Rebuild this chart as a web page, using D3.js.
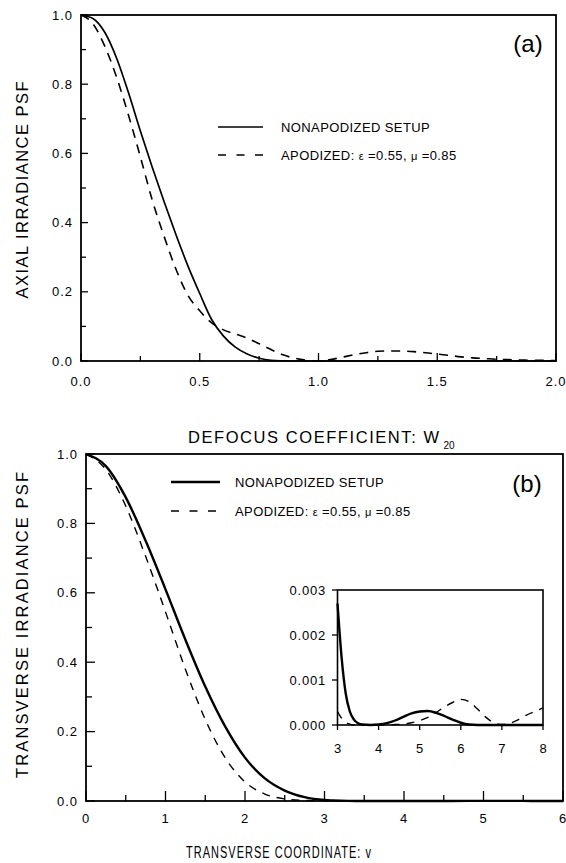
<!DOCTYPE html>
<html><head><meta charset="utf-8">
<script src="https://cdn.jsdelivr.net/npm/d3@7"></script>
<style>
html,body{margin:0;padding:0;background:#fff;}
svg{display:block;font-family:"Liberation Sans",Arial,Helvetica,sans-serif;}
</style></head>
<body>
<svg id="chart" width="566" height="863"></svg>
<script>
// ---- Panel (a): axial irradiance vs defocus coefficient W20 ----
const defocusW20 = [0,0.05,0.1,0.15,0.2,0.25,0.3,0.35,0.4,0.45,0.5,0.55,0.6,0.65,0.7,0.75,0.8,0.85,0.9,0.95,1.0,1.05,1.1,1.15,1.2,1.25,1.3,1.35,1.4,1.45,1.5,1.55,1.6,1.65,1.7,1.75,1.8,1.85,1.9,1.95,2.0];
const axialNonapodized = [1.0,0.99,0.95,0.875,0.775,0.665,0.56,0.46,0.365,0.275,0.195,0.12,0.072,0.04,0.02,0.008,0.002,0.0005,0,0,0,0,0,0,0,0,0,0,0,0,0,0,0,0,0,0,0,0,0,0,0];
const axialApodized = [1.0,0.975,0.91,0.82,0.71,0.59,0.465,0.36,0.265,0.19,0.145,0.11,0.09,0.078,0.066,0.05,0.033,0.018,0.008,0.002,0.0,0.004,0.011,0.018,0.024,0.028,0.029,0.029,0.027,0.024,0.02,0.016,0.012,0.009,0.007,0.005,0.004,0.003,0.002,0.002,0.001];
const aXTicks = [0,0.5,1.0,1.5,2.0];
const aYTicks = [0,0.2,0.4,0.6,0.8,1.0];

// ---- Panel (b): transverse irradiance vs transverse coordinate v ----
const transV = [0,0.25,0.5,0.75,1.0,1.25,1.5,1.75,2.0,2.25,2.5,2.75,3.0];
const transNonapodized = [1.0,0.965,0.875,0.75,0.61,0.465,0.33,0.215,0.125,0.065,0.03,0.011,0.0027];
const transApodized = [1.0,0.955,0.85,0.705,0.545,0.38,0.235,0.125,0.055,0.02,0.006,0.0015,0.0003];
// inset (tail, v = 3..8)
const insetV = [3.0,3.1,3.2,3.3,3.4,3.5,3.6,3.8,4.0,4.2,4.4,4.6,4.8,5.0,5.2,5.4,5.6,5.8,6.0,6.2,6.4,6.6,6.8,7.0,7.2,7.4,7.6,7.8,8.0];
const insetNonapodized = [0.0027,0.0015,0.0007,0.0003,0.00012,0.00004,0.00001,0,0.00001,0.00004,0.0001,0.00018,0.00026,0.0003,0.00031,0.00027,0.0002,0.00012,0.00005,0.00001,0,0,0,0,0,0,0,0,0];
const insetApodized = [0.0003,0.00015,0.00006,0.00002,0,0,0,0,0,0,0.00001,0.00002,0.00005,0.0001,0.00017,0.00028,0.0004,0.0005,0.00057,0.00052,0.00036,0.00018,0.00005,0.00001,0.00004,0.00012,0.00022,0.0003,0.00038];
const bXTicks = [0,1,2,3,4,5,6];
const bYTicks = [0,0.2,0.4,0.6,0.8,1.0];
const insetXTicks = [3,4,5,6,7,8];
const insetYTicks = [0,0.001,0.002,0.003];

const legendLabels = ["NONAPODIZED SETUP", "APODIZED: "];

const svg = d3.select("#chart");

function zip(xs, ys){ return xs.map((x,i)=>[x, ys[i]]); }

function drawFrame(g, x, y, sw){
  const [x0,x1] = x.range(), [y1,y0] = y.range();
  g.append("rect").attr("x",x0).attr("y",y0).attr("width",x1-x0).attr("height",y1-y0)
   .attr("fill","none").attr("stroke","#000").attr("stroke-width",sw);
}

function innerTicks(g, x, y, xMajor, xMinor, yMajor, yMinor, lenMajX, lenMinX, lenMajY, lenMinY){
  const [x0] = x.range(), [y1] = y.range();
  xMajor.concat(xMinor).forEach((t,i)=>{
    const L = i < xMajor.length ? lenMajX : lenMinX;
    g.append("line").attr("x1",x(t)).attr("x2",x(t)).attr("y1",y1).attr("y2",y1-L)
      .attr("stroke","#000").attr("stroke-width",1.3);
  });
  yMajor.concat(yMinor).forEach((t,i)=>{
    const L = i < yMajor.length ? lenMajY : lenMinY;
    g.append("line").attr("x1",x0).attr("x2",x0+L).attr("y1",y(t)).attr("y2",y(t))
      .attr("stroke","#000").attr("stroke-width",1.3);
  });
}

function tickLabels(g, x, y, xt, yt, xfmt, yfmt, xBase, yRight, fs){
  xt.forEach(t=>{
    g.append("text").attr("x",x(t)).attr("y",xBase).attr("text-anchor","middle")
     .attr("font-size",fs).attr("letter-spacing","1px").text(xfmt(t));
  });
  yt.forEach(t=>{
    g.append("text").attr("x",yRight).attr("y",y(t)+fs*0.36).attr("text-anchor","end")
     .attr("font-size",fs).attr("letter-spacing","1px").text(yfmt(t));
  });
}

function legend(g, xLine0, xLine1, xText, yRow1, yRow2, solidW, fs){
  g.append("line").attr("x1",xLine0).attr("x2",xLine1).attr("y1",yRow1).attr("y2",yRow1)
   .attr("stroke","#000").attr("stroke-width",solidW);
  g.append("line").attr("x1",xLine0).attr("x2",xLine1).attr("y1",yRow2).attr("y2",yRow2)
   .attr("stroke","#000").attr("stroke-width",1.5).attr("stroke-dasharray","8,10.5");
  g.append("text").attr("x",xText).attr("y",yRow1+fs*0.36).attr("font-size",fs)
   .attr("letter-spacing","0.4px").text(legendLabels[0]);
  const t = g.append("text").attr("x",xText).attr("y",yRow2+fs*0.36).attr("font-size",fs)
   .attr("letter-spacing","0.4px");
  t.append("tspan").text(legendLabels[1]);
  t.append("tspan").attr("font-size",fs*0.85).text("\u03B5");
  t.append("tspan").text(" =0.55, ");
  t.append("tspan").attr("font-size",fs*0.85).text("\u03BC");
  t.append("tspan").text(" =0.85");
}

// ================= Panel (a) =================
const ga = svg.append("g");
const xa = d3.scaleLinear().domain([0,2]).range([81,556]);
const ya = d3.scaleLinear().domain([0,1]).range([361,15]);
const lineA = d3.line().x(d=>xa(d[0])).y(d=>ya(d[1])).curve(d3.curveMonotoneX);

ga.append("path").datum(zip(defocusW20, axialApodized)).attr("d",lineA)
  .attr("fill","none").attr("stroke","#000").attr("stroke-width",1.6).attr("stroke-dasharray","9,7");
ga.append("path").datum(zip(defocusW20, axialNonapodized)).attr("d",lineA)
  .attr("fill","none").attr("stroke","#000").attr("stroke-width",1.7);

drawFrame(ga, xa, ya, 1.8);
innerTicks(ga, xa, ya, aXTicks, [0.25,0.75,1.25,1.75], aYTicks, [0.1,0.3,0.5,0.7,0.9], 8, 5, 7, 5);
tickLabels(ga, xa, ya, aXTicks, aYTicks, d3.format(".1f"), d3.format(".1f"), 386, 73, 13);

legend(ga, 218, 263, 281, 127, 155, 1.7, 13);
ga.append("text").attr("x",528).attr("y",52).attr("text-anchor","middle").attr("font-size",24).text("(a)");

ga.append("text").attr("transform","translate(28,190) rotate(-90)").attr("text-anchor","middle")
  .attr("font-size",16.5).attr("textLength",217).attr("lengthAdjust","spacing")
  .text("AXIAL IRRADIANCE PSF");
const xta = ga.append("text").attr("x",188).attr("y",443).attr("font-size",16.5);
xta.append("tspan").attr("textLength",251).attr("lengthAdjust","spacing").text("DEFOCUS COEFFICIENT: W");
xta.append("tspan").attr("font-size",10).attr("dx",3).attr("dy",6).text("20");

// ================= Panel (b) =================
const gb = svg.append("g");
const xb = d3.scaleLinear().domain([0,6]).range([86,563]);
const yb = d3.scaleLinear().domain([0,1]).range([801,454]);
const lineB = d3.line().x(d=>xb(d[0])).y(d=>yb(d[1])).curve(d3.curveMonotoneX);

const fullSolid = zip(transV, transNonapodized).concat(zip(insetV.slice(1), insetNonapodized.slice(1))).filter(d=>d[0]<=6);
const fullDash = zip(transV, transApodized).concat(zip(insetV.slice(1), insetApodized.slice(1))).filter(d=>d[0]<=6);

gb.append("path").datum(fullDash).attr("d",lineB)
  .attr("fill","none").attr("stroke","#000").attr("stroke-width",1.4).attr("stroke-dasharray","8,7");
gb.append("path").datum(fullSolid).attr("d",lineB)
  .attr("fill","none").attr("stroke","#000").attr("stroke-width",2.4);

drawFrame(gb, xb, yb, 1.8);
innerTicks(gb, xb, yb, bXTicks, [0.5,1.5,2.5,3.5,4.5,5.5], bYTicks, [0.1,0.3,0.5,0.7,0.9], 10, 6, 9, 6);
tickLabels(gb, xb, yb, bXTicks, bYTicks, d3.format("d"), d3.format(".1f"), 823, 78, 13);

legend(gb, 171, 220, 235, 482, 511, 2.4, 13);
gb.append("text").attr("x",527).attr("y",492).attr("text-anchor","middle").attr("font-size",24).text("(b)");

gb.append("text").attr("transform","translate(28,625) rotate(-90)").attr("text-anchor","middle")
  .attr("font-size",16.5).attr("textLength",306).attr("lengthAdjust","spacing")
  .text("TRANSVERSE IRRADIANCE PSF");
gb.append("text").attr("x",186).attr("y",858).attr("font-size",16)
  .attr("letter-spacing","1.5px")
  .attr("textLength",186).attr("lengthAdjust","spacingAndGlyphs")
  .text("TRANSVERSE COORDINATE: v");

// ================= Inset =================
const gi = svg.append("g");
const xi = d3.scaleLinear().domain([3,8]).range([337.5,543]);
const yi = d3.scaleLinear().domain([0,0.003]).range([725,590]);
const lineI = d3.line().x(d=>xi(d[0])).y(d=>yi(d[1])).curve(d3.curveMonotoneX);
gi.append("rect").attr("x",337.5).attr("y",590).attr("width",543-337.5).attr("height",725-590).attr("fill","#fff");
gi.append("path").datum(zip(insetV, insetApodized)).attr("d",lineI)
  .attr("fill","none").attr("stroke","#000").attr("stroke-width",1.4).attr("stroke-dasharray","8,7");
gi.append("path").datum(zip(insetV, insetNonapodized)).attr("d",lineI)
  .attr("fill","none").attr("stroke","#000").attr("stroke-width",2.4);
drawFrame(gi, xi, yi, 1.6);
insetXTicks.forEach(t=>{
  gi.append("line").attr("x1",xi(t)).attr("x2",xi(t)).attr("y1",725).attr("y2",730).attr("stroke","#000").attr("stroke-width",1.3);
  gi.append("text").attr("x",xi(t)).attr("y",753).attr("text-anchor","middle").attr("font-size",13).text(t);
});
insetYTicks.forEach(t=>{
  gi.append("line").attr("x1",337.5).attr("x2",332).attr("y1",yi(t)).attr("y2",yi(t)).attr("stroke","#000").attr("stroke-width",1.3);
  gi.append("text").attr("x",326).attr("y",yi(t)+4.7).attr("text-anchor","end").attr("font-size",13)
    .attr("letter-spacing","0.8px").text(d3.format(".3f")(t));
});
</script>
</body></html>
